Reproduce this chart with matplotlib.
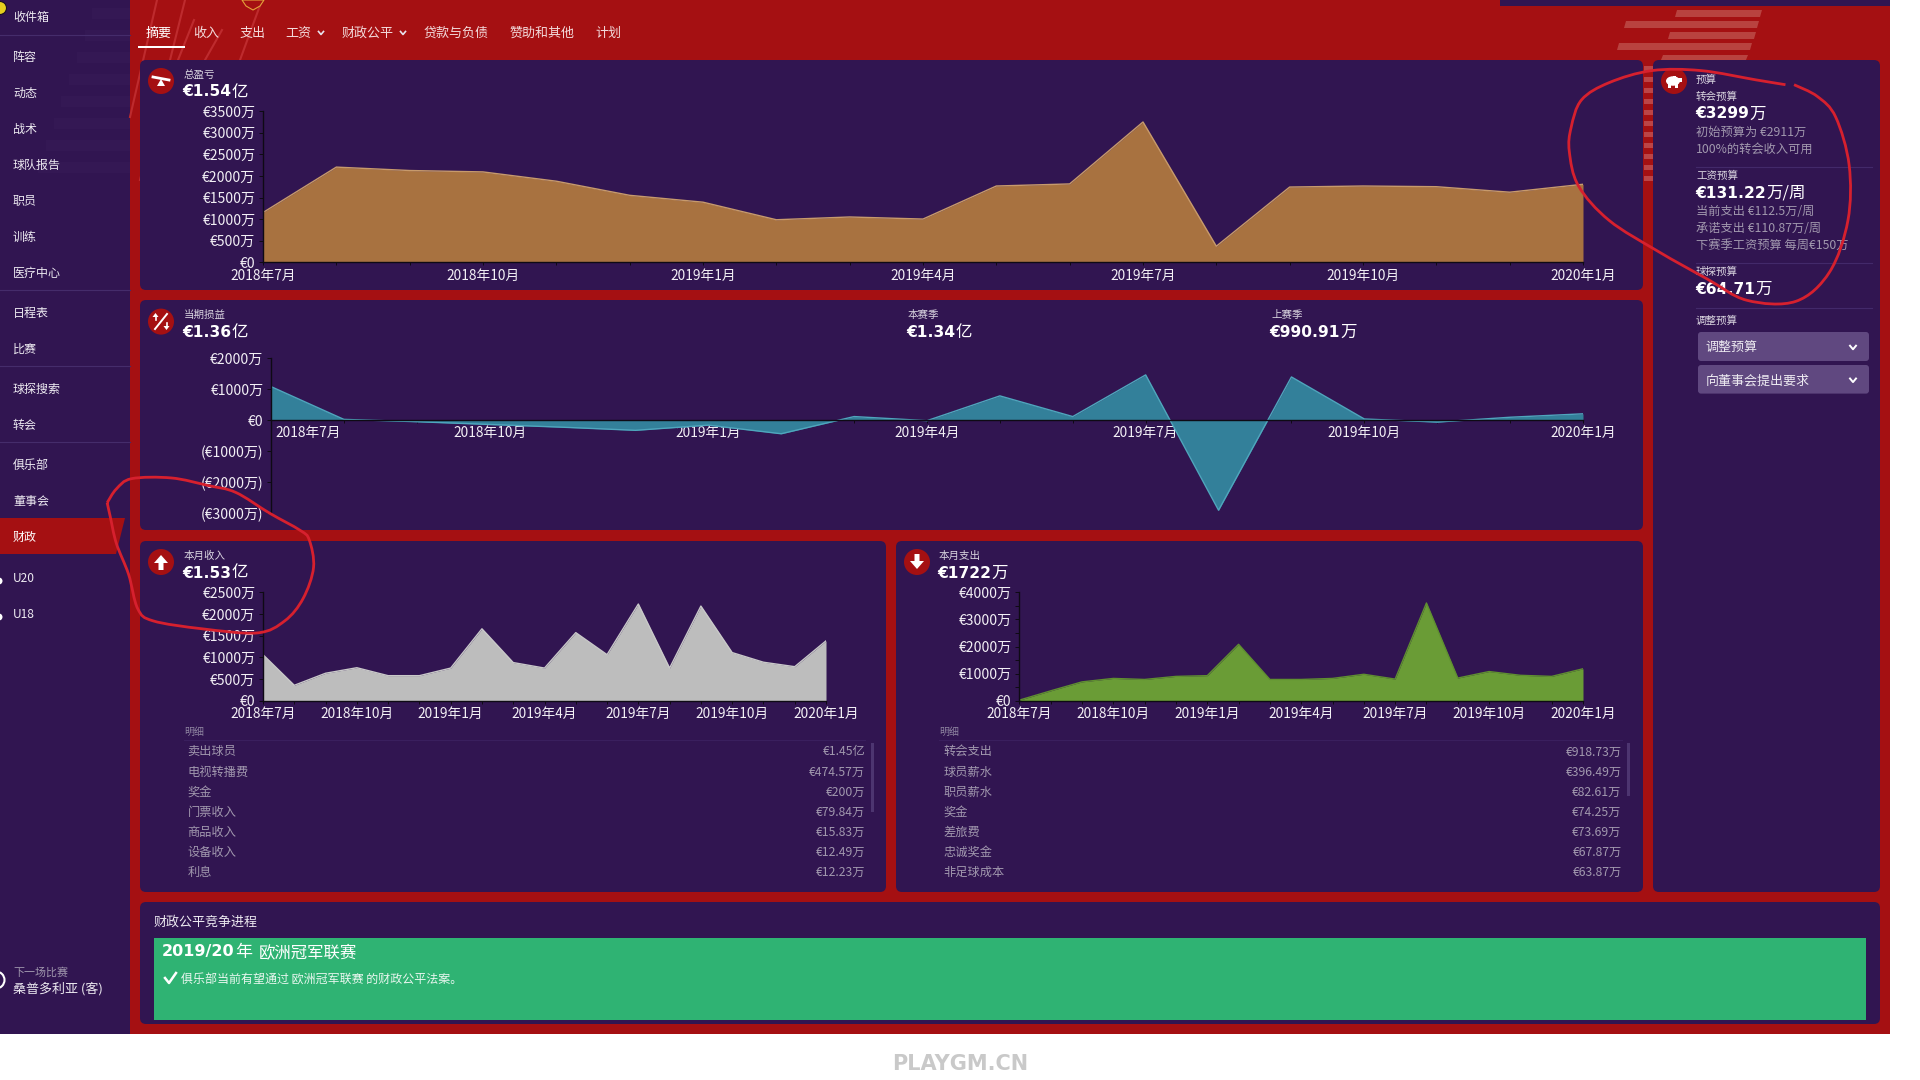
import matplotlib
matplotlib.use("Agg")
import matplotlib.pyplot as plt
from matplotlib import font_manager
from matplotlib.path import Path
from matplotlib.patches import FancyBboxPatch, Rectangle, Polygon, Circle, Ellipse, PathPatch

# ---------- data (values in 万 euro) ----------
months = ["2018年7月", "2018年8月", "2018年9月", "2018年10月", "2018年11月", "2018年12月", "2019年1月",
          "2019年2月", "2019年3月", "2019年4月", "2019年5月", "2019年6月", "2019年7月", "2019年8月",
          "2019年9月", "2019年10月", "2019年11月", "2019年12月", "2020年1月"]
total_profit = [1153, 2203, 2124, 2092, 1877, 1551, 1392, 986, 1050, 1002, 1766, 1814, 3246, 374, 1742, 1766, 1750, 1623, 1806]
period_result = [1078, 20, -55, -145, -233, -333, -167, -444, 111, -22, 778, 111, 1455, -2911, 1389, 33, -67, 89, 200]
month_income = [1063, 357, 635, 762, 579, 579, 754, 1659, 881, 754, 1571, 1063, 2230, 754, 2183, 1111, 889, 786, 1381]
month_expense = [25, 368, 698, 825, 787, 900, 927, 2083, 787, 787, 825, 978, 800, 3606, 838, 1079, 940, 900, 1181]
income_items = ["卖出球员", "电视转播费", "奖金", "门票收入", "商品收入", "设备收入", "利息"]
income_values = ["€1.45亿", "€474.57万", "€200万", "€79.84万", "€15.83万", "€12.49万", "€12.23万"]
expense_items = ["转会支出", "球员薪水", "职员薪水", "奖金", "差旅费", "忠诚奖金", "非足球成本"]
expense_values = ["€918.73万", "€396.49万", "€82.61万", "€74.25万", "€73.69万", "€67.87万", "€63.87万"]
sidebar_items = ["收件箱", "阵容", "动态", "战术", "球队报告", "职员", "训练", "医疗中心", "日程表", "比赛",
                 "球探搜索", "转会", "俱乐部", "董事会", "财政", "U20", "U18"]
sidebar_rows = [16, 56, 92, 128, 164, 200, 236, 272, 312, 348, 388, 424, 464, 500, 536, 577, 613]
tabs = ["摘要", "收入", "支出", "工资", "财政公平", "贷款与负债", "赞助和其他", "计划"]
tab_lefts = [146, 193.5, 240, 286, 342, 424, 510, 596]

# ---------- styles ----------
W, H = 1920, 1080
CJK = ["Noto Sans CJK SC", "DejaVu Sans"]
plt.rcParams["font.family"] = CJK
RED = "#A51012"
PURPLE = "#311551"
PX = 0.72  # pixels to points at dpi 100
DIM = "#A198AE"
LIGHT = "#DAD5E0"

fig = plt.figure(figsize=(W / 100, H / 100), dpi=100, facecolor="white")
renderer = fig.canvas.get_renderer()


def overlay(z):
    a = fig.add_axes([0, 0, 1, 1], zorder=z)
    a.set_xlim(0, W)
    a.set_ylim(H, 0)
    a.axis("off")
    a.patch.set_alpha(0)
    return a


bg = overlay(0)
fg = overlay(5)


def T(x, y, s, px=12, c="white", ha="left", **kw):
    bg.text(x, y + px * 0.1, s, fontsize=px * PX, color=c, ha=ha, va="center", **kw)


def V(x, y, num, unit="", px=15.5):
    """Bold wide figures followed by a regular-weight CJK unit."""
    t = bg.text(x - 2, y, num, fontsize=px * PX, color="white", ha="left", va="center", family="DejaVu Sans",
                weight="bold", zorder=4)
    w = t.get_window_extent(renderer).width
    if unit:
        bg.text(x - 2 + w + 0.5, y, unit, fontsize=(px + 1) * PX, color="white", ha="left", va="center", zorder=4)


def panel(x0, y0, x1, y1):
    bg.add_patch(FancyBboxPatch((x0 + 5, y0 + 5), x1 - x0 - 10, y1 - y0 - 10, boxstyle="round,pad=5,rounding_size=6",
                                fc=PURPLE, ec="none", zorder=2))


def chevron(x, y, s=3, c="#E8E4EE", lw=1.2):
    bg.plot([x - s, x, x + s], [y - s * 0.6, y + s * 0.6, y - s * 0.6], color=c, lw=lw, zorder=4)


def hline(x0, x1, y, c="#43296A"):
    bg.plot([x0, x1], [y, y], color=c, lw=0.8, zorder=3)


def badge(x, y):
    bg.add_patch(Ellipse((x, y), 26, 26, fc=RED, ec="none", zorder=3))


def smooth(points):
    """Catmull-Rom curve through hand-traced pen points."""
    verts, codes = [points[0]], [Path.MOVETO]
    n = len(points)
    for i in range(n - 1):
        p0 = points[max(i - 1, 0)]
        p1, p2 = points[i], points[i + 1]
        p3 = points[min(i + 2, n - 1)]
        verts += [(p1[0] + (p2[0] - p0[0]) / 6, p1[1] + (p2[1] - p0[1]) / 6),
                  (p2[0] - (p3[0] - p1[0]) / 6, p2[1] - (p3[1] - p1[1]) / 6), p2]
        codes += [Path.CURVE4] * 3
    return Path(verts, codes)


# ---------- frame ----------
bg.add_patch(Rectangle((130, 0), 1760, 1033.5, fc=RED, ec="none", zorder=1))
bg.add_patch(Rectangle((0, 0), 130, 1033.5, fc=PURPLE, ec="none", zorder=1))
bg.add_patch(Rectangle((1500, 0), 390, 5.5, fc=PURPLE, ec="none", zorder=2))
for x_a, x_b, y_a, y_b in [(1675, 1762, 10, 17), (1624, 1759, 21, 28), (1668, 1756, 32, 39), (1617, 1752, 43, 50), (1661, 1748, 55, 60)]:
    bg.add_patch(Polygon([(x_a + 2, y_a), (x_b, y_a), (x_b - 2, y_b), (x_a, y_b)], fc="#B9423F", ec="none", zorder=2))
for k in range(11):
    bg.add_patch(Rectangle((1644, 66 + k * 11), 9, 5, fc="#BC4446", ec="none", zorder=2))
for xa, ya, xb, yb in [(157, 0, 130, 117), (185, 0, 140, 180), (194, 20, 178, 60), (222, 30, 205, 60), (262, 0, 240, 60)]:
    bg.plot([xa, xb], [ya, yb], color="#BE2B2E", lw=1.5, zorder=1.5)
for k, y in enumerate(range(8, 180, 22)):
    bg.add_patch(Rectangle((95 - y * 0.35, y), 35 + y * 0.35, 11, fc="#341854", ec="none", zorder=1.5))
bg.add_patch(Polygon([(242, 0), (264, 0), (260, 6), (253, 10), (246, 6)], fc=RED, ec="#E3A23A", lw=0.8, zorder=3))

# sidebar
for y in [35, 290, 366, 442]:
    hline(0, 130, y, "#452C6B")
bg.add_patch(Polygon([(0, 518), (125, 518), (116, 554), (0, 554)], fc=RED, ec="none", zorder=2))
for name, y in zip(sidebar_items, sidebar_rows):
    T(13, y, name, 12, "#EDEAF1" if name != "财政" else "white", zorder=4)
bg.add_patch(Circle((0, 8), 6.5, fc="#E6CF1E", ec="#1A1020", lw=0.8, zorder=4))
for y in [581, 617]:
    bg.add_patch(Circle((-1, y), 3.5, fc="white", ec="none", zorder=4))
bg.add_patch(Circle((-4, 980), 8.5, fc=PURPLE, ec="white", lw=1.5, zorder=4))
T(13, 971, "下一场比赛", 11, DIM, zorder=4)
T(13, 987, "桑普多利亚 (客)", 13, "#EDEAF1", zorder=4)

# top tabs
for name, x in zip(tabs, tab_lefts):
    T(x - 0.5, 32, name, 13, "white" if name == "摘要" else "#F3DADB", zorder=4)
chevron(321, 33, 2.5)
chevron(403, 33, 2.5)
bg.add_patch(Rectangle((138, 45.5), 47, 2.5, fc="white", ec="none", zorder=4))

# panels
panel(140, 60, 1643, 290)
panel(140, 300, 1643, 530)
panel(140, 541, 886, 892)
panel(896, 541, 1643, 892)
panel(1653, 60, 1880, 892)
panel(140, 902, 1880, 1024)


def header(ix, iy, lx, label, num, unit, ly, vy):
    badge(ix, iy)
    T(lx - 0.5, ly, label, 10.5, LIGHT, zorder=4)
    V(lx, vy, num, unit)


header(161, 81, 184, "总盈亏", "€1.54", "亿", 74, 92)
header(161, 321.6, 184, "当期损益", "€1.36", "亿", 314, 332.5)
header(161, 562, 184, "本月收入", "€1.53", "亿", 555, 573)
header(917, 562, 939.4, "本月支出", "€1722", "万", 555, 573)
T(908, 314, "本赛季", 10.5, LIGHT, zorder=4)
V(908, 332.5, "€1.34", "亿")
T(1271, 314, "上赛季", 10.5, LIGHT, zorder=4)
V(1271, 332.5, "€990.91", "万")

# icon glyphs
bg.plot([153, 169], [77, 80], color="white", lw=2, zorder=5)
bg.add_patch(Polygon([(161, 79), (157, 86), (165, 86)], fc="white", ec="none", zorder=5))
bg.plot([155, 167], [329, 314], color="white", lw=1.4, zorder=5)
for cx, cy, d in [(155.5, 317, -1), (166.5, 326, 1)]:
    bg.add_patch(Polygon([(cx, cy + 4 * d), (cx - 3, cy), (cx + 3, cy)], fc="white", ec="none", zorder=5))
    bg.plot([cx, cx], [cy, cy - 3 * d], color="white", lw=1.2, zorder=5)
bg.add_patch(Polygon([(161, 555), (154, 563), (158.5, 563), (158.5, 570), (163.5, 570), (163.5, 563), (168, 563)], fc="white", ec="none", zorder=5))
bg.add_patch(Polygon([(917, 569), (910, 561), (914.5, 561), (914.5, 554), (919.5, 554), (919.5, 561), (924, 561)], fc="white", ec="none", zorder=5))
badge(1674, 81)
bg.add_patch(Ellipse((1673, 81), 14, 9.5, fc="white", ec="none", zorder=5))
for r in [(1678, 78, 4, 4), (1668, 84, 2.5, 3.5), (1675, 84, 2.5, 3.5), (1673, 75.5, 3, 2)]:
    bg.add_patch(Rectangle(r[:2], r[2], r[3], fc="white", ec="none", zorder=5))

# detail tables
for lx, ix, rx, sx, sy1, items, vals in [(184, 187.5, 865, 872, 812, income_items, income_values),
                                         (939.4, 943.7, 1621.5, 1628.7, 795.5, expense_items, expense_values)]:
    T(lx, 731, "明细", 10, "#8E84A0", zorder=4)
    hline(lx, rx, 740, "#3A1F5E")
    for k, (n, v) in enumerate(zip(items, vals)):
        y = 750.7 + k * 20.05
        T(ix, y, n, 12.2, DIM, zorder=4)
        T(rx, y, v, 12.2, DIM, ha="right", zorder=4)
    bg.add_patch(Rectangle((sx - 1.5, 743), 3, sy1 - 743, fc="#4D3570", ec="none", zorder=4))

# right budget panel
X = 1696
T(X, 78.5, "预算", 10.5, LIGHT, zorder=4)
T(X, 96, "转会预算", 10.5, LIGHT, zorder=4)
V(X + 1, 114, "€3299", "万")
T(X, 131, "初始预算为 €2911万", 12.2, DIM, zorder=4)
T(X, 148, "100%的转会收入可用", 12.2, DIM, zorder=4)
hline(X, 1872, 167)
T(X, 175, "工资预算", 10.5, LIGHT, zorder=4)
V(X + 1, 193.5, "€131.22", "万/周")
T(X, 210, "当前支出 €112.5万/周", 12.2, DIM, zorder=4)
T(X, 227, "承诺支出 €110.87万/周", 12.2, DIM, zorder=4)
T(X, 244, "下赛季工资预算 每周€150万", 12.2, DIM, zorder=4)
hline(X, 1872, 263.4)
T(X, 271, "球探预算", 10.5, LIGHT, zorder=4)
V(X + 1, 289, "€64.71", "万")
hline(X, 1872, 308)
T(X, 320, "调整预算", 10.5, LIGHT, zorder=4)
for y0, y1, s in [(332, 361, "调整预算"), (365, 393.6, "向董事会提出要求")]:
    bg.add_patch(FancyBboxPatch((1700, y0 + 2), 167, y1 - y0 - 4, boxstyle="round,pad=2,rounding_size=3", fc="#604880", ec="none", zorder=3))
    T(1705.5, (y0 + y1) / 2, s, 13, "#EDEAF1", zorder=4)
    chevron(1853, (y0 + y1) / 2 + 1, 3, "white", 1.4)

# bottom panel
T(154, 921, "财政公平竞争进程", 13, "#EDEAF1", zorder=4)
bg.add_patch(Rectangle((154, 938), 1712, 82, fc="#2FB373", ec="none", zorder=3))
V(164, 951.5, "2019/20", "年", px=16)
T(259, 951.5, "欧洲冠军联赛", 16.4, "white", zorder=4)
bg.plot([165, 169, 176], [978, 983, 973], color="white", lw=1.8, zorder=4)
T(180.6, 978.7, "俱乐部当前有望通过 欧洲冠军联赛 的财政公平法案。", 12, "#EAF7F0", zorder=4)

# watermark: narrowest bold face available
narrow = [f.name for f in font_manager.fontManager.ttflist
          if ("narrow" in f.name.lower() or "condensed" in f.name.lower() or str(f.stretch).lower() in ("condensed", "semi-condensed"))]
bg.text(960, 1064, "PLAYGM.CN", fontsize=15 if narrow else 13.5, color="#C9C9C9", ha="center", va="center", weight="bold",
        family=narrow[0] if narrow else "Liberation Sans", zorder=4)


# ---------- charts ----------
def euro(v):
    if v == 0:
        return "€0"
    return f"€{v}万" if v > 0 else f"(€{-v}万)"


def chart(x0, y0, x1, y1, values, ymin, ymax, step, label_step, fill, line):
    ax = fig.add_axes([x0 / W, 1 - y1 / H, (x1 - x0) / W, (y1 - y0) / H], zorder=2)
    ax.patch.set_alpha(0)
    xs = list(range(len(months)))
    ax.fill_between(xs, values, 0, color=fill, lw=0, zorder=2)
    ax.plot(xs, values, color=line, lw=1.0, zorder=3)
    ax.set_xlim(0, len(months) - 1)
    ax.set_ylim(ymin, ymax)
    for s in ["top", "right"]:
        ax.spines[s].set_visible(False)
    for s in ["left", "bottom"]:
        ax.spines[s].set_color("#0E0A14")
        ax.spines[s].set_linewidth(1.0)
        ax.spines[s].set_zorder(4)
    ax.spines["bottom"].set_position(("data", 0))
    ax.set_xticks(xs)
    ax.set_xticklabels([m if k % 3 == 0 else "" for k, m in enumerate(months)])
    yt = list(range(ymin, ymax + 1, step))
    ax.set_yticks(yt)
    ax.set_yticklabels([euro(v) if v % label_step == 0 else "" for v in yt])
    ax.tick_params(axis="y", length=3, width=0.7, color="#0E0A14", labelcolor="#F2EFF5", labelsize=14 * PX, pad=2.5)
    ax.tick_params(axis="x", length=2.5, width=0.7, color="#0E0A14", labelcolor="#F2EFF5", labelsize=13.7 * PX, pad=2)
    return ax


ORANGE, TEAL, GREY, GREEN = "#A87240", "#33809A", "#BDBDBD", "#6A9C36"
chart(263, 111, 1583, 262.4, total_profit, 0, 3500, 500, 500, ORANGE, "#C79A6C")
ax2 = chart(271, 358, 1583, 513, period_result, -3000, 2000, 1000, 1000, TEAL, "#4FA6BD")
first = ax2.get_xticklabels()[0]
first.set_ha("left")
first.set_x(0)
first.set_transform(first.get_transform() + matplotlib.transforms.ScaledTranslation(4 / 100, 0, fig.dpi_scale_trans))
chart(263, 592.3, 826, 700.8, month_income, 0, 2500, 500, 500, GREY, "#C9C9C9")
chart(1019.4, 592.3, 1583, 700.8, month_expense, 0, 4000, 500, 1000, GREEN, "#5F8F30")

# ---------- hand-drawn red annotations ----------
INK = "#D6202E"
fx = lambda z: 960 + z / 1.633
ring1 = [(1348, 246), (1300, 232), (1210, 205), (1130, 205), (1060, 240), (1015, 290), (998, 370), (995, 440), (1010, 540),
         (1060, 640), (1140, 730), (1220, 810), (1285, 872), (1365, 875), (1420, 790), (1450, 640), (1452, 480), (1430, 340),
         (1400, 280), (1362, 246)]
fg.add_patch(PathPatch(smooth([(fx(a), b / 2.904) for a, b in ring1]), fc="none", ec=INK, lw=2.0, zorder=6))
ring2 = [(175, 1460), (190, 1420), (215, 1390), (280, 1388), (340, 1410), (385, 1430), (440, 1490), (490, 1540), (505, 1568),
         (512, 1648), (495, 1738), (465, 1803), (420, 1838), (330, 1826), (250, 1803), (225, 1768), (210, 1668), (190, 1578),
         (180, 1500), (175, 1460)]
fg.add_patch(PathPatch(smooth([(a / 1.633, b / 2.904) for a, b in ring2]), fc="none", ec=INK, lw=2.0, zorder=6))

fig.savefig("out.png", dpi=100, facecolor="white")
